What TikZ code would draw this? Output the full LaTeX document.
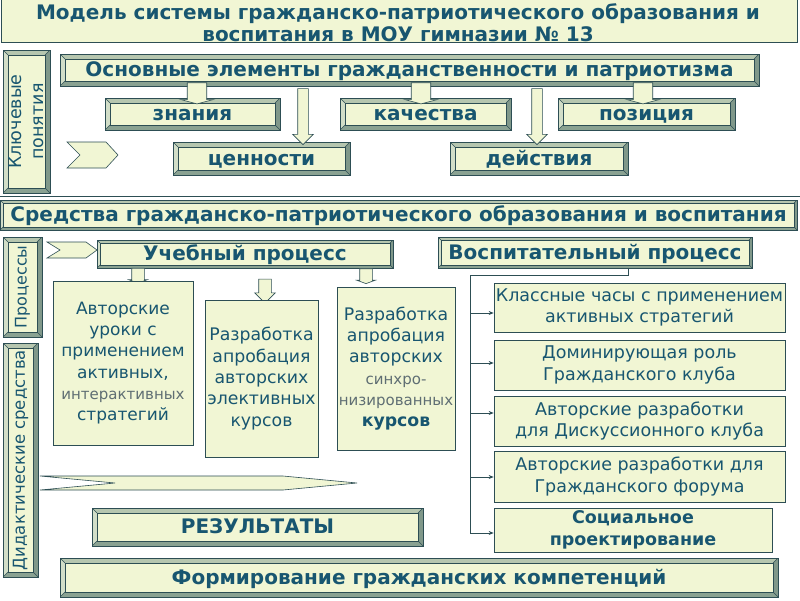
\documentclass[tikz,border=0pt]{standalone}
\usepackage{fontspec}
\setmainfont{DejaVu Sans}
\usetikzlibrary{shapes.arrows,arrows.meta,calc}
\definecolor{txt}{RGB}{24,86,112}
\definecolor{boxfill}{RGB}{241,246,212}
\definecolor{edge}{RGB}{45,78,84}
\definecolor{bvtop}{RGB}{182,198,175}
\definecolor{bvleft}{RGB}{210,222,200}
\definecolor{bvright}{RGB}{128,152,138}
\definecolor{bvbot}{RGB}{138,162,146}
\definecolor{graytxt}{RGB}{95,110,115}
\tikzset{
  bevel/.style={draw=edge, line width=0.7pt, fill=boxfill, inner sep=0pt, text=txt, align=center,
    path picture={
      \coordinate (pa) at (path picture bounding box.north west);
      \coordinate (pb) at (path picture bounding box.north east);
      \coordinate (pc) at (path picture bounding box.south east);
      \coordinate (pd) at (path picture bounding box.south west);
      \coordinate (qa) at ([shift={(#1,-#1)}]pa);
      \coordinate (qb) at ([shift={(-#1,-#1)}]pb);
      \coordinate (qc) at ([shift={(-#1,#1)}]pc);
      \coordinate (qd) at ([shift={(#1,#1)}]pd);
      \fill[bvtop] (pa)--(pb)--(qb)--(qa)--cycle;
      \fill[bvright] (pb)--(pc)--(qc)--(qb)--cycle;
      \fill[bvbot] (pc)--(pd)--(qd)--(qc)--cycle;
      \fill[bvleft] (pd)--(pa)--(qa)--(qd)--cycle;
      \filldraw[fill=boxfill, draw=edge, line width=0.5pt] (qa) rectangle (qc);
      \draw[edge, line width=0.4pt] (pa)--(qa) (pb)--(qb) (pc)--(qc) (pd)--(qd);
    }},
  bevel/.default=5pt,
  flatbox/.style={draw=edge, line width=0.7pt, fill=boxfill, inner sep=0pt, text=txt, align=center},
  barrow/.style={single arrow, draw=edge, fill=boxfill, line width=0.6pt, rotate=-90, inner sep=0pt},
  chev/.style={draw=edge, fill=boxfill, line width=0.6pt},
  link/.style={draw=edge, line width=0.7pt},
  linkarrow/.style={link, -{Stealth[length=5pt,width=4pt]}},
  bigb/.style={font=\bfseries\fontsize{20}{24}\selectfont, text height=15.5pt, text depth=2pt},
  vtext/.style={rotate=90, text=txt, align=center, font=\fontsize{17.5}{22}\selectfont},
  reg/.style={font=\fontsize{17.5}{21.5}\selectfont},
}
% box by corners: style, name, x1, y1, x2, y2, text
\newcommand\bx[7]{\node[#1, minimum width={(#5-#3)*1pt}, minimum height={(#6-#4)*1pt}] (#2) at ({(#3+#5)/2},{(#4+#6)/2}) {#7};}
\begin{document}
\begin{tikzpicture}[x=1pt,y=-1pt]
\useasboundingbox[fill=white] (0,0) rectangle (800,600);
% title
\bx{draw=edge, line width=0.7pt, fill=boxfill, inner sep=0pt}{titlebox}{1}{-3}{797}{42}{}
\node[text=txt, align=center, font=\bfseries\fontsize{20}{22}\selectfont] (title) at (398,22.5)
  {Модель системы гражданско-патриотического образования и\\воспитания в МОУ гимназии № 13};
\draw[edge, line width=0.6pt] (0,196) -- (800,196);

% key concepts
\bx{bevel}{kp}{3}{50}{50}{193}{}
\node[vtext] (kptext) at (kp.center) {Ключевые\\понятия};
\bx{bevel, bigb}{main}{60}{54}{759}{86}{Основные элементы гражданственности и патриотизма}
\bx{bevel, bigb}{zn}{105}{98}{280}{130}{знания}
\bx{bevel, bigb}{ka}{340}{98}{511}{130}{качества}
\bx{bevel, bigb}{po}{558}{98}{735}{130}{позиция}
\bx{bevel, bigb}{ce}{173}{142}{350}{175}{ценности}
\bx{bevel, bigb}{de}{450}{142}{628}{175}{действия}
\filldraw[chev] (67,142) -- (106,142) -- (118,155) -- (106,168) -- (67,168) -- (80,155) -- cycle;
% arrows from main
\node[barrow, minimum height=12pt, minimum width=32pt, single arrow head extend=6pt, inner sep=9pt, single arrow tip angle=150] (a1) at (197,92) {};
\node[barrow, minimum height=12pt, minimum width=32pt, single arrow head extend=6pt, inner sep=9pt, single arrow tip angle=150] (a2) at (421,92) {};
\node[barrow, minimum height=12pt, minimum width=32pt, single arrow head extend=6pt, inner sep=9pt, single arrow tip angle=150] (a3) at (643,92) {};
\node[barrow, minimum height=56pt, minimum width=20pt, single arrow head extend=5pt, inner sep=5pt] (a4) at (303,114) {};
\node[barrow, minimum height=56pt, minimum width=20pt, single arrow head extend=5pt, inner sep=5pt] (a5) at (537,114) {};

% means
\bx{bevel=3pt, bigb}{sr}{0}{200}{797}{230}{Средства гражданско-патриотического образования и воспитания}
\bx{bevel}{pr}{3}{237}{42}{337}{}
\node[vtext, font=\fontsize{16}{20}\selectfont] (prtext) at (pr.center) {Процессы};
\bx{bevel}{dd}{3}{343}{38}{577}{}
\node[vtext, font=\fontsize{16.5}{20}\selectfont] (ddtext) at (dd.center) {Дидактические средства};
\filldraw[chev] (47,242) -- (86,242) -- (97,250) -- (86,258) -- (47,258) -- (60,250) -- cycle;
\bx{bevel=3pt, bigb}{up}{97}{240}{393}{268}{Учебный процесс}
\bx{bevel=3pt, bigb}{vp}{438}{237}{752}{268}{Воспитательный процесс}

\node[barrow, minimum height=13pt, minimum width=18pt, single arrow head extend=3pt, inner sep=6pt, single arrow tip angle=140] (b1) at (138,274.5) {};
\node[barrow, minimum height=24pt, minimum width=20pt, single arrow head extend=4pt, inner sep=6pt] (b2) at (265,288) {};
\node[barrow, minimum height=13pt, minimum width=18pt, single arrow head extend=3pt, inner sep=6pt, single arrow tip angle=140] (b3) at (366,275) {};

\bx{flatbox, font=\fontsize{17}{21.3}\selectfont}{u1}{53}{281}{193}{445}
  {Авторские\\уроки с\\применением\\активных,\\{\color{graytxt}\fontsize{15}{21.3}\selectfont интерактивных}\\стратегий}
\bx{flatbox, font=\fontsize{17.3}{21.3}\selectfont}{u2}{205}{300}{318}{457}
  {Разработка\\апробация\\авторских\\элективных\\курсов}
\bx{flatbox, font=\fontsize{17.3}{21.3}\selectfont}{u3}{337}{287}{455}{450}
  {Разработка\\апробация\\авторских\\{\color{graytxt}\fontsize{15}{21.3}\selectfont синхро-}\\{\color{graytxt}\fontsize{15}{21.3}\selectfont низированных}\\\textbf{курсов}}

\bx{flatbox, reg}{r1}{494}{283}{785}{332}{Классные часы с применением\\активных стратегий}
\bx{flatbox, reg}{r2}{494}{340}{785}{390}{Доминирующая роль\\Гражданского клуба}
\bx{flatbox, reg}{r3}{494}{396}{785}{446}{Авторские разработки\\для Дискуссионного клуба}
\bx{flatbox, reg}{r4}{494}{451}{785}{502}{Авторские разработки для\\Гражданского форума}
\bx{flatbox, font=\bfseries\fontsize{17.5}{21.5}\selectfont}{r5}{494}{508}{772}{552}{Социальное\\проектирование}

\coordinate (bus) at (470,275);
\draw[link] ([xshift=33pt]vp.south) |- (bus) -- (470,533);
\draw[linkarrow] (470,313) -- (r1.west |- 0,313);
\draw[linkarrow] (470,363) -- (r2.west |- 0,363);
\draw[linkarrow] (470,413) -- (r3.west |- 0,413);
\draw[linkarrow] (470,477) -- (r4.west |- 0,477);
\draw[linkarrow] (470,533) -- (r5.west |- 0,533);

\filldraw[chev] (40,476) -- (283,476) -- (357,483) -- (283,490) -- (40,490) -- (115,483) -- cycle;
\bx{bevel, bigb}{res}{92}{508}{423}{546}{РЕЗУЛЬТАТЫ}
\bx{bevel, bigb}{fo}{60}{558}{778}{597}{Формирование гражданских компетенций}
\end{tikzpicture}
\end{document}
